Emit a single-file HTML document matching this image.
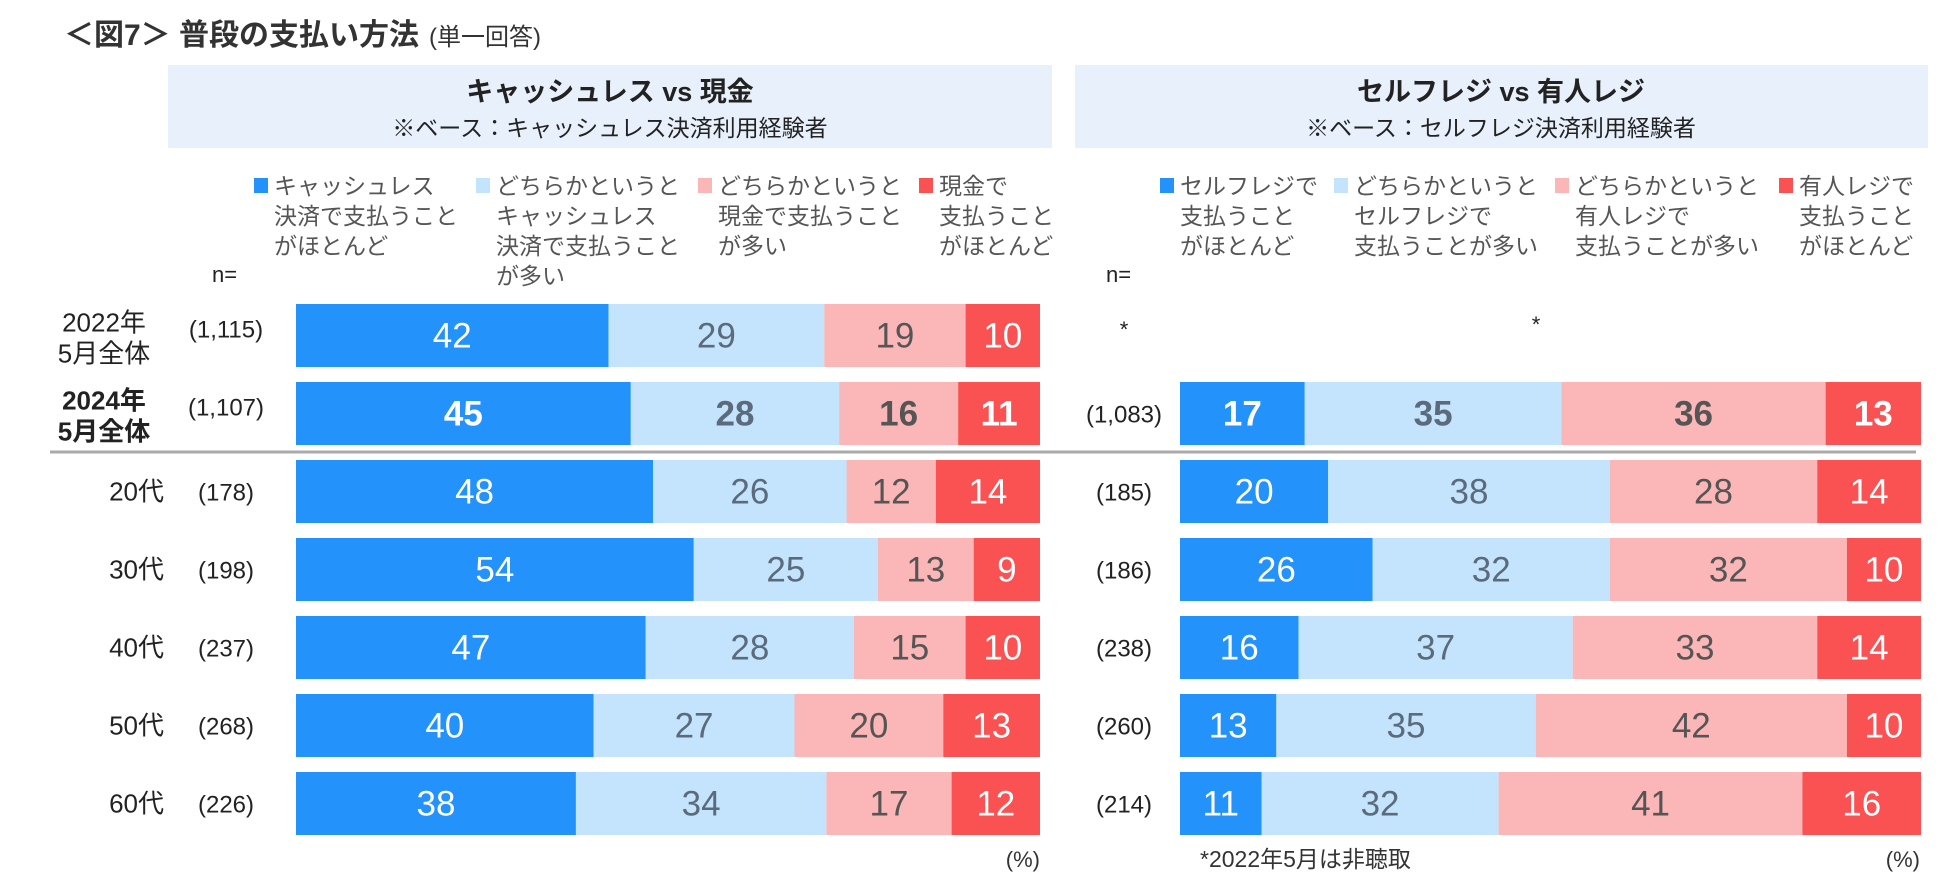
<!DOCTYPE html>
<html><head><meta charset="utf-8">
<style>
body{margin:0;background:#fff;width:1950px;height:893px;overflow:hidden;font-family:"Liberation Sans","Noto Sans CJK JP",sans-serif;}
svg{display:block}
</style></head>
<body>
<svg id="chart" width="1950" height="893" viewBox="0 0 1950 893" font-family="'Liberation Sans','Noto Sans CJK JP',sans-serif">
<text x="64" y="45" font-size="30" font-weight="bold" fill="#333">＜図7＞ 普段の支払い方法<tspan font-size="24" font-weight="normal" dx="10">(単一回答)</tspan></text>
<rect x="168" y="65" width="884" height="83" fill="#e8f1fb"/>
<text x="610" y="101" text-anchor="middle" font-size="27" font-weight="bold" fill="#222">キャッシュレス  vs  現金</text>
<text x="610" y="136" text-anchor="middle" font-size="23" fill="#222">※ベース：キャッシュレス決済利用経験者</text>
<rect x="1075" y="65" width="853" height="83" fill="#e8f1fb"/>
<text x="1501" y="101" text-anchor="middle" font-size="27" font-weight="bold" fill="#222">セルフレジ  vs  有人レジ</text>
<text x="1501" y="136" text-anchor="middle" font-size="23" fill="#222">※ベース：セルフレジ決済利用経験者</text>
<g id="legend" font-size="23" fill="#555"></g>
<text x="212" y="282" font-size="22" fill="#222">n=</text>
<text x="1106" y="282" font-size="22" fill="#222">n=</text>
<text x="1124" y="337" text-anchor="middle" font-size="22" fill="#222">*</text>
<text x="1536" y="332" text-anchor="middle" font-size="22" fill="#222">*</text>
<line x1="50" y1="452" x2="1916" y2="452" stroke="#aaa" stroke-width="3"/>
<g id="bars"></g>
<text x="1040" y="867" text-anchor="end" font-size="22" fill="#333">(%)</text>
<text x="1920" y="867" text-anchor="end" font-size="22" fill="#333">(%)</text>
<text x="1200" y="867" font-size="23" fill="#333">*2022年5月は非聴取</text>
</svg>
<script>
const rowLabels = [["2022年","5月全体"],["2024年","5月全体"],["20代"],["30代"],["40代"],["50代"],["60代"]];
const leftN = ["(1,115)","(1,107)","(178)","(198)","(237)","(268)","(226)"];
const rightN = [null,"(1,083)","(185)","(186)","(238)","(260)","(214)"];
const cashless = [42,45,48,54,47,40,38];
const leanCashless = [29,28,26,25,28,27,34];
const leanCash = [19,16,12,13,15,20,17];
const cash = [10,11,14,9,10,13,12];
const selfReg = [null,17,20,26,16,13,11];
const leanSelf = [null,35,38,32,37,35,32];
const leanStaffed = [null,36,28,32,33,42,41];
const staffed = [null,13,14,10,14,10,16];
const leftLegend = [["キャッシュレス","決済で支払うこと","がほとんど"],["どちらかというと","キャッシュレス","決済で支払うこと","が多い"],["どちらかというと","現金で支払うこと","が多い"],["現金で","支払うこと","がほとんど"]];
const rightLegend = [["セルフレジで","支払うこと","がほとんど"],["どちらかというと","セルフレジで","支払うことが多い"],["どちらかというと","有人レジで","支払うことが多い"],["有人レジで","支払うこと","がほとんど"]];

const NS="http://www.w3.org/2000/svg";
const colors=["#2492fb","#c3e4fc","#fbb6b7","#fa5152"];
const txtColors=["#fff","#5b6b7c","#555","#fff"];
const rowTop=i=>304+i*78, barH=63;
const L={x0:296,w:744}, R={x0:1180,w:741};
function mk(tag,attrs,parent){const e=document.createElementNS(NS,tag);for(const k in attrs)e.setAttribute(k,attrs[k]);parent.appendChild(e);return e;}
const bars=document.getElementById('bars');
function drawBar(vals,panel,i,prefix){
  const sum=vals.reduce((a,b)=>a+b,0);
  let x=panel.x0;
  vals.forEach((v,k)=>{
    const w=v/sum*panel.w;
    const r=mk('rect',{x:x,y:rowTop(i),width:w,height:barH,fill:colors[k]},bars);
    
    
    const t=mk('text',{x:x+w/2,y:rowTop(i)+barH/2+12,'text-anchor':'middle','font-size':35,fill:txtColors[k],'font-weight':i===1?'bold':'normal'},bars);
    t.textContent=v;
    
    
    x+=w;
  });
}
rowLabels.forEach((lab,i)=>{
  const cy=rowTop(i)+barH/2;
  const g=mk('text',{'font-size':26,fill:'#222','font-weight':i===1?'bold':'normal','text-anchor':lab.length>1?'middle':'end'},bars);
  
  
  if(lab.length>1){lab.forEach((s,j)=>{const ts=mk('tspan',{x:104,y:cy-4+j*31},g);ts.textContent=s;});}
  else{const ts=mk('tspan',{x:164,y:cy+9},g);ts.textContent=lab[0];}
  const n=mk('text',{x:226,y:cy+(lab.length>1?2:9),'text-anchor':'middle','font-size':24,fill:'#222'},bars);
  n.textContent=leftN[i];
  
  
  drawBar([cashless[i],leanCashless[i],leanCash[i],cash[i]],L,i,'left');
  if(rightN[i]){
    const rn=mk('text',{x:1124,y:cy+9,'text-anchor':'middle','font-size':24,fill:'#222'},bars);
    rn.textContent=rightN[i];
    
    
    drawBar([selfReg[i],leanSelf[i],leanStaffed[i],staffed[i]],R,i,'right');
  }
});
const lg=document.getElementById('legend');
function drawLegend(items,xs,prefix){
  items.forEach((lines,k)=>{
    const s=mk('rect',{x:xs[k],y:178,width:14,height:15,fill:colors[k]},lg);
    
    
    const t=mk('text',{},lg);
    
    
    lines.forEach((ln,j)=>{const ts=mk('tspan',{x:xs[k]+20,y:194+j*30},t);ts.textContent=ln;});
  });
}
drawLegend(leftLegend,[254,476,698,919],'left');
drawLegend(rightLegend,[1160,1334,1555,1779],'right');
</script>
</body></html>
